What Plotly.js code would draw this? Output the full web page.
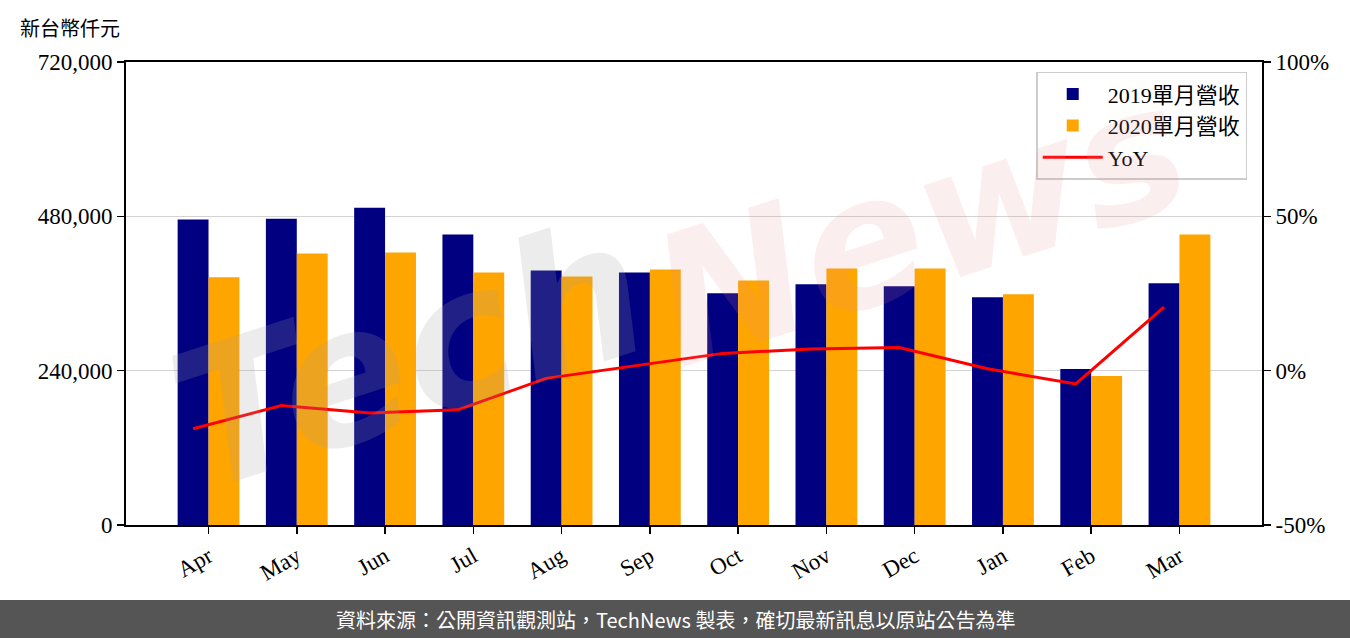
<!DOCTYPE html>
<html>
<head>
<meta charset="utf-8">
<script src="https://cdn.plot.ly/plotly-3.0.1.min.js"></script>
<style>
html,body{margin:0;padding:0;background:#fff;}
#chart{width:1350px;height:638px;}
</style>
</head>
<body>
<div id="chart"></div>
<script>
const months = ["Apr","May","Jun","Jul","Aug","Sep","Oct","Nov","Dec","Jan","Feb","Mar"];
const rev2019 = [475000, 476400, 493400, 451600, 395900, 392800, 360300, 374200, 371100, 354100, 242600, 375800];
const rev2020 = [385100, 422200, 423800, 392800, 386600, 397500, 380400, 399000, 399000, 358800, 231800, 451600];
const yoy = [-18.8, -11.3, -13.7, -12.7, -2.5, 1.6, 5.6, 7.0, 7.5, 0.6, -4.3, 20.6];
const leftTicks = [0, 240000, 480000, 720000];
const rightTicks = [-50, 0, 50, 100];

const idx = months.map((m, i) => i);
const serif = "'Liberation Serif', 'Noto Sans CJK TC', serif";

const traces = [
  {type:'bar', name:'2019單月營收', x: idx, y: rev2019, marker:{color:'#000080'}, hoverinfo:'y'},
  {type:'bar', name:'2020單月營收', x: idx, y: rev2020, marker:{color:'#ffa500'}, hoverinfo:'y'},
  {type:'scatter', mode:'lines', name:'YoY', x: idx.map(i => i - 0.175), y: yoy, yaxis:'y2',
   line:{color:'#ff0000', width:3}}
];

const layout = {
  width:1350, height:638,
  margin:{l:126, r:88, t:62, b:113},
  paper_bgcolor:'#ffffff', plot_bgcolor:'#ffffff',
  barmode:'group', bargap:0.3, bargroupgap:0,
  font:{family:serif, size:22, color:'#000'},
  xaxis:{
    range:[-0.935, 11.935], tickvals: idx, ticktext: months, tickangle:-30,
    showline:true, linecolor:'#000', linewidth:2, mirror:true,
    ticks:'outside', ticklen:7, tickwidth:1.5, tickcolor:'#000',
    showgrid:false, zeroline:false, tickfont:{family:serif, size:23}
  },
  yaxis:{
    range:[0, 720000], tickvals: leftTicks, ticktext: leftTicks.map(v => v.toLocaleString('en-US')),
    showline:true, linecolor:'#000', linewidth:2,
    ticks:'outside', ticklen:7, tickwidth:1.5, tickcolor:'#000',
    showgrid:true, gridcolor:'#d3d3d3', gridwidth:1.5, zeroline:false,
    tickfont:{family:serif, size:23}
  },
  yaxis2:{
    overlaying:'y', side:'right', range:[-50, 100], tickvals: rightTicks,
    ticktext: rightTicks.map(v => v + '%'),
    showline:true, linecolor:'#000', linewidth:2,
    ticks:'outside', ticklen:7, tickwidth:1.5, tickcolor:'#000',
    showgrid:false, zeroline:false, tickfont:{family:serif, size:23}
  },
  legend:{
    x:0.987, xanchor:'right', y:0.979, yanchor:'top',
    bgcolor:'rgba(255,255,255,0.85)', bordercolor:'#cccccc', borderwidth:1.5,
    font:{family:serif, size:22}, tracegroupgap:0, itemwidth:60
  },
  shapes:[
    {type:'rect', xref:'paper', yref:'paper', x0:-126/1136, x1:1+88/1136,
     y0:-(638-525)/463, y1:-(600-525)/463, fillcolor:'#555555', line:{width:0}, layer:'below'}
  ],
  annotations:[
    {xref:'paper', yref:'paper', x:-108/1136, y:1+35/463, xanchor:'left', yanchor:'middle',
     text:'新台幣仟元', showarrow:false, font:{family:"'Noto Sans CJK TC', sans-serif", size:20, color:'#000'}},
    {xref:'paper', yref:'paper', x:(675-126)/1136, y:-(619-525)/463, xanchor:'center', yanchor:'middle',
     text:'資料來源：公開資訊觀測站，TechNews 製表，確切最新訊息以原站公告為準', showarrow:false,
     font:{family:"'Noto Sans CJK TC', sans-serif", size:20, color:'#ffffff'}},
    {xref:'paper', yref:'paper', x:(410-126)/1136, y:(525-355)/463, xanchor:'center', yanchor:'middle',
     text:'<i><b>Tech</b></i>', showarrow:false, textangle:-18,
     font:{family:"'DejaVu Sans', sans-serif", size:190, color:'rgba(160,160,160,0.2)'}},
    {xref:'paper', yref:'paper', x:(920-126)/1136, y:(525-225)/463, xanchor:'center', yanchor:'middle',
     text:'<i><b>News</b></i>', showarrow:false, textangle:-18,
     font:{family:"'DejaVu Sans', sans-serif", size:180, color:'rgba(225,140,150,0.15)'}}
  ]
};

Plotly.newPlot('chart', traces, layout, {displayModeBar:false, staticPlot:true});
</script>
</body>
</html>
